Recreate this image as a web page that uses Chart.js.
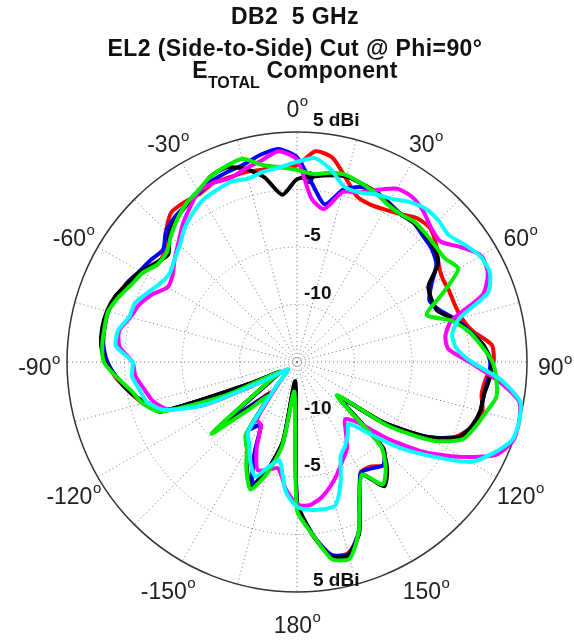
<!DOCTYPE html>
<html>
<head>
<meta charset="utf-8">
<script src="https://cdn.jsdelivr.net/npm/chart.js@4.4.1/dist/chart.umd.min.js"></script>
<style>
  body { margin: 0; background: #fff; }
  #wrap { position: relative; width: 574px; height: 644px; }
  .t {
    position: absolute; left: 8px; width: 574px; text-align: center;
    font: bold 23px 'Liberation Sans', Arial, sans-serif; line-height: 23px;
    letter-spacing: 0.4px; color: #111; white-space: pre;
  }
  .t sub { font-size: 16px; vertical-align: baseline; position: relative; top: 10px; letter-spacing: 0; }
</style>
</head>
<body>
<div id="wrap">
  <canvas id="polarChart" width="574" height="644"></canvas>
  <div class="t" style="top:5px">DB2  5 GHz</div>
  <div class="t" style="top:37px">EL2 (Side-to-Side) Cut @ Phi=90°</div>
  <div class="t" style="top:59px">E<sub>TOTAL</sub> Component</div>
</div>
<script>
// angulos do corte (graus, 0 = topo, sentido horario)
const angles = [0, 5, 10, 15, 20, 25, 30, 35, 40, 45, 50, 55, 60, 65, 70, 75, 80, 85,
  90, 95, 100, 105, 110, 115, 120, 125, 130, 135, 140, 145, 150, 155, 160, 165, 170, 175,
  180, 185, 190, 195, 200, 205, 210, 215, 220, 225, 230, 235, 240, 245, 250, 255, 260, 265,
  270, 275, 280, 285, 290, 295, 300, 305, 310, 315, 320, 325, 330, 335, 340, 345, 350, 355];

// ganho em dBi por angulo
const black = [0.9, 1.2, 1.5, 1.7, 1.5, 1.3, 0.9, 0.7, 0.8, 0.7, 0.5, 0.0, -1.8, -2.1, -2.0, -0.8, 0.2, 1.3,
  1.9, 1.8, 1.5, 1.5, 1.2, 0.5, -2.0, -5.9, -10.2, -4.6, -2.8, -1.8, -3.7, -2.1, 0.8, 2.4, 2.2, 0.0,
  -2.8, -13.3, -8.0, -5.4, -3.3, -4.7, -6.3, -7.3, -11.1, -9.8, -5.6, -12.0, -13.3, -10.7, -2.4, -1.3, -0.2, 0.7,
  1.7, 2.1, 2.2, 2.1, 1.8, 1.2, 0.7, 0.0, -0.4, 0.7, 1.3, 1.7, 2.1, 2.8, 3.0, 2.4, 1.3, -0.4];

const red = [2.1, 3.4, 3.0, 1.5, 0.3, 0.1, 0.3, 0.7, 1.3, 1.4, 0.8, 0.0, -0.4, -0.4, -0.4, -0.2, 0.5, 2.0,
  2.1, 1.5, 1.3, 1.7, 1.3, 0.3, -1.8, -5.6, -10.2, -4.4, -3.3, -3.9, -3.9, -2.1, 0.8, 2.2, 2.1, 0.0,
  -2.8, -12.8, -7.9, -5.3, -3.7, -6.3, -8.7, -8.0, -11.5, -10.2, -6.3, -12.4, -13.3, -10.7, -2.4, -1.1, -0.2, 0.8,
  1.5, 2.0, 2.0, 2.0, 1.7, 1.3, 0.7, -0.2, 0.0, 1.1, 2.0, 2.0, 1.9, 2.2, 2.1, 2.1, 2.0, 2.0];

const blue = [2.8, 0.5, -1.1, 0.5, 1.2, 1.3, 1.0, 0.7, 0.8, 0.5, 0.3, -0.2, -1.5, -2.3, -1.8, -0.7, 0.3, 1.3,
  1.8, 1.7, 1.5, 1.5, 1.2, 0.5, -2.0, -5.8, -10.2, -4.4, -3.3, -3.7, -3.9, -2.1, 0.7, 2.3, 2.0, 0.0,
  -2.8, -13.1, -8.0, -5.4, -3.7, -6.3, -8.7, -7.9, -11.3, -10.2, -6.3, -12.4, -13.3, -10.7, -2.4, -1.3, -0.2, 0.7,
  1.5, 1.9, 2.0, 2.0, 1.6, 1.3, 0.8, 0.5, 0.2, 1.1, 1.5, 1.7, 2.0, 2.4, 2.6, 2.8, 3.3, 3.6];

const green = [1.7, 1.4, 1.7, 1.8, 1.5, 1.2, 0.8, 0.7, 0.9, 0.8, 0.7, 0.7, 1.2, -1.1, -3.0, -1.1, 0.2, 1.1,
  2.0, 2.4, 2.6, 2.0, 1.5, 0.9, -1.3, -5.3, -10.5, -4.7, -3.0, -2.0, -3.7, -2.1, 0.7, 2.7, 2.4, 0.0,
  -2.1, -12.4, -7.6, -5.0, -3.2, -4.6, -6.3, -7.2, -11.1, -9.3, -5.3, -12.0, -13.3, -8.0, -2.4, -1.1, -0.4, 0.7,
  1.8, 2.0, 2.0, 2.0, 1.5, 0.9, 0.5, -0.2, -0.2, 0.5, 1.2, 1.8, 2.2, 2.8, 3.1, 3.3, 2.4, 2.0];

const magenta = [2.6, -0.7, -1.5, 0.3, 0.7, 1.5, 2.4, 2.5, 2.1, 1.5, 1.3, 2.4, 3.5, 3.3, 2.2, -1.1, -1.9, -1.8,
  0.0, 2.4, 4.6, 5.0, 5.0, 4.1, 1.5, -1.3, -4.5, -7.6, -8.5, -7.6, -6.3, -5.6, -4.7, -3.8, -3.0, -2.5,
  -2.6, -3.9, -5.6, -5.3, -5.0, -6.7, -8.7, -8.9, -12.4, -13.7, -14.0, -13.7, -12.0, -6.3, -3.0, -2.0, -1.5, -0.9,
  -0.7, 0.5, 0.7, 0.0, -0.4, -1.1, -2.0, -1.8, -1.1, -0.4, 0.5, 1.3, 2.1, 2.2, 2.0, 2.4, 2.8, 3.4];

const cyan = [2.4, 2.8, 2.0, 0.8, 0.7, 1.1, 1.4, 2.0, 2.4, 2.4, 2.2, 2.8, 3.4, 3.5, 2.7, -0.4, -1.3, -1.1,
  0.2, 2.8, 4.7, 5.0, 4.9, 3.8, 2.4, -0.7, -3.4, -6.3, -8.0, -7.3, -6.6, -6.0, -3.9, -2.1, -2.0, -2.1,
  -2.4, -3.7, -6.3, -5.6, -4.4, -5.4, -6.7, -7.6, -12.0, -13.7, -14.0, -13.7, -12.0, -6.3, -2.8, -1.5, -1.1, -0.6,
  -0.7, 0.8, 0.8, 0.1, 0.0, -0.7, -1.3, -1.5, -1.1, -0.6, 0.2, 0.8, 1.3, 1.5, 1.7, 1.5, 1.8, 2.0];

// marcas dos eixos
const radialTicks = [-10, -5, 0, 5];
const radialTickText = ['-10', '-5', '0', '5 dBi'];
const angleTicks = [0, 30, 60, 90, 120, 150, 180, 210, 240, 270, 300, 330];
const angleTickText = ['0', '30', '60', '90', '120', '150', '180', '-150', '-120', '-90', '-60', '-30'];

const FONT = "'Liberation Sans', Arial, sans-serif";

// rotulos de dB sobre o eixo vertical (em cima e embaixo)
const radialLabelsPlugin = {
    id: 'radialLabels',
    beforeDatasetsDraw(chart) {
        const scale = chart.scales.r;
        const ctx = chart.ctx;
        ctx.save();
        ctx.font = 'bold 19px ' + FONT;
        ctx.fillStyle = '#111';
        ctx.textAlign = 'left';
        ctx.textBaseline = 'middle';
        radialTicks.forEach((v, i) => {
            const d = scale.getDistanceFromCenterForValue(v);
            const x = scale.xCenter + (v === 5 ? 16 : 7);
            ctx.fillText(radialTickText[i], x, scale.yCenter - d - 11);
            if (v !== 0) {
                ctx.fillText(radialTickText[i], x, scale.yCenter + d - 11);
            }
        });
        ctx.restore();
    }
};

// rotulos de angulo centrados fora do circulo, com o "o" sobrescrito
const angleLabelsPlugin = {
    id: 'angleLabels',
    afterDraw(chart) {
        const scale = chart.scales.r;
        const ctx = chart.ctx;
        const R = scale.drawingArea;
        ctx.save();
        ctx.fillStyle = '#222';
        ctx.textBaseline = 'middle';
        ctx.textAlign = 'left';
        angleTicks.forEach((a, k) => {
            const idx = angles.indexOf(a);
            const p = scale.getPointPosition(idx, R + 28);
            const txt = angleTickText[k];
            ctx.font = '23px ' + FONT;
            const w1 = ctx.measureText(txt).width;
            ctx.font = '15px ' + FONT;
            const w2 = ctx.measureText('o').width;
            const x0 = p.x - (w1 + w2) / 2;
            ctx.font = '23px ' + FONT;
            ctx.fillText(txt, x0, p.y + 7);
            ctx.font = '15px ' + FONT;
            ctx.fillText('o', x0 + w1 + 0.5, p.y - 2);
        });
        ctx.restore();
    }
};

function serie(data, color) {
    return {
        data: data,
        borderColor: color,
        backgroundColor: color,
        borderWidth: 4,
        pointRadius: 0,
        fill: false,
        tension: 0.22,
        borderJoinStyle: 'round'
    };
}

const ctx = document.getElementById('polarChart').getContext('2d');
new Chart(ctx, {
    type: 'radar',
    data: {
        labels: angles,
        // o primeiro dataset fica por cima
        datasets: [
            serie(cyan, '#00ffff'),
            serie(green, '#00ee00'),
            serie(magenta, '#ff00ff'),
            serie(black, '#000000'),
            serie(blue, '#0000ff'),
            serie(red, '#ff0000')
        ]
    },
    options: {
        responsive: false,
        animation: false,
        layout: { padding: { top: 132, bottom: 52, left: 67, right: 47 } },
        plugins: {
            legend: { display: false },
            tooltip: { enabled: false }
        },
        scales: {
            r: {
                min: -15,
                max: 5,
                ticks: { stepSize: 5, display: false },
                grid: {
                    circular: true,
                    color: c => c.index === 4 ? '#333' : '#777',
                    lineWidth: c => c.index === 4 ? 1.5 : 1
                },
                border: {
                    dash: c => c.index === 4 ? [] : [1, 3]
                },
                angleLines: {
                    color: '#777',
                    lineWidth: c => (angles[c.index] % 15 === 0 ? 1 : 0),
                    borderDash: [1, 3]
                },
                pointLabels: { display: false }
            }
        }
    },
    plugins: [radialLabelsPlugin, angleLabelsPlugin]
});
</script>
</body>
</html>
